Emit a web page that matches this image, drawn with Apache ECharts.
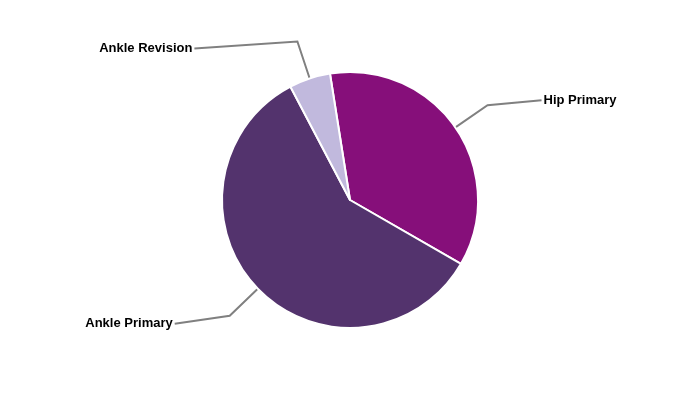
<!DOCTYPE html>
<html><head><meta charset="utf-8">
<script src="https://cdn.jsdelivr.net/npm/echarts@6/dist/echarts.min.js"></script>
<style>html,body{margin:0;padding:0;background:#fff}#c{width:700px;height:400px}</style>
</head><body><div id="c"></div>
<script>
const categories = ['Hip Primary', 'Ankle Primary', 'Ankle Revision'];
const values = [35.8, 59.0, 5.2];
const colors = ['#860F7A', '#53336D', '#C1B9DD'];
const secondLegs = [54, 55, 103];
const labelShiftY = [-5, 8, 7];

const chart = echarts.init(document.getElementById('c'));
chart.setOption({
  animation: false,
  series: [{
    type: 'pie',
    center: [350, 200],
    radius: 128,
    startAngle: 99,
    clockwise: true,
    avoidLabelOverlap: false,
    itemStyle: { borderColor: '#fff', borderWidth: 2 },
    label: { color: '#000', fontWeight: 'bold', fontSize: 13, fontFamily: 'Liberation Sans, Arial, sans-serif', distanceToLabelLine: 2 },
    labelLine: { length: 39, lineStyle: { color: '#808080', width: 2 } },
    labelLayout: function (p) {
      const dy = labelShiftY[p.dataIndex];
      const pts = p.labelLinePoints;
      const out = { dy: dy };
      if (pts && pts.length === 3) {
        out.labelLinePoints = [pts[0].slice(), pts[1].slice(), [pts[2][0], pts[2][1] + dy]];
      }
      return out;
    },
    emphasis: { disabled: true },
    data: categories.map((c, i) => ({
      name: c, value: values[i],
      itemStyle: { color: colors[i] },
      labelLine: { length2: secondLegs[i] }
    }))
  }]
});
</script></body></html>
